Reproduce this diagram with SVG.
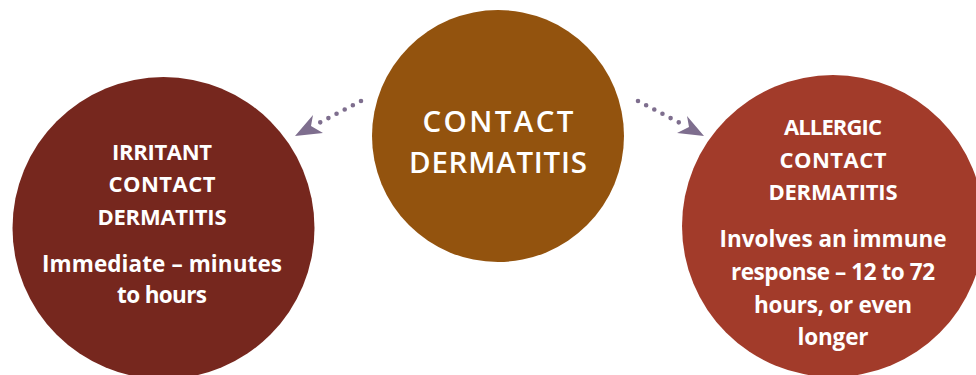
<svg xmlns="http://www.w3.org/2000/svg" width="976" height="375" viewBox="0 0 976 375">
<style>
.t{font-family:"Open Sans","Liberation Sans",sans-serif;fill:#ffffff;text-anchor:middle}
.h{font-size:22px;font-weight:700}
.b{font-size:22.5px;font-weight:700}
.c{font-size:29.5px;font-weight:600}
.dots{fill:none;stroke:#7e6e8e;stroke-width:4.6;stroke-linecap:round;stroke-dasharray:0 9.2}
.head{fill:#7e6e8e}
</style>
<rect width="976" height="375" fill="#ffffff"/>
<g id="connectors">
<path class="dots" d="M361,101 L319,123"/>
<polygon class="head" points="295,136 313,115 311,126 323,133"/>
<path class="dots" d="M638,101 L680,123"/>
<polygon class="head" points="704,136 687,116 689,127 677,133"/>
</g>
<g id="irritant">
<circle cx="163.5" cy="228" r="151" fill="#76271e"/>
<text class="t h" x="162" y="160" textLength="100">IRRITANT</text>
<text class="t h" x="162" y="192" textLength="107">CONTACT</text>
<text class="t h" x="162" y="225" textLength="129">DERMATITIS</text>
<text class="t b" x="162" y="272" textLength="240">Immediate – minutes</text>
<text class="t b" x="162" y="303" textLength="90">to hours</text>
</g>
<g id="contact">
<circle cx="498" cy="136" r="126" fill="#93530e"/>
<text class="t c" x="498" y="132" textLength="151">CONTACT</text>
<text class="t c" x="498" y="173" textLength="178">DERMATITIS</text>
</g>
<g id="allergic">
<circle cx="833" cy="226" r="151" fill="#a23b2a"/>
<text class="t h" x="833" y="135" textLength="98">ALLERGIC</text>
<text class="t h" x="833" y="168" textLength="107">CONTACT</text>
<text class="t h" x="833" y="200" textLength="129">DERMATITIS</text>
<text class="t b" x="833" y="247" textLength="227">Involves an immune</text>
<text class="t b" x="833" y="280" textLength="204">response – 12 to 72</text>
<text class="t b" x="833" y="313" textLength="158">hours, or even</text>
<text class="t b" x="833" y="345" textLength="71">longer</text>
</g>
</svg>
